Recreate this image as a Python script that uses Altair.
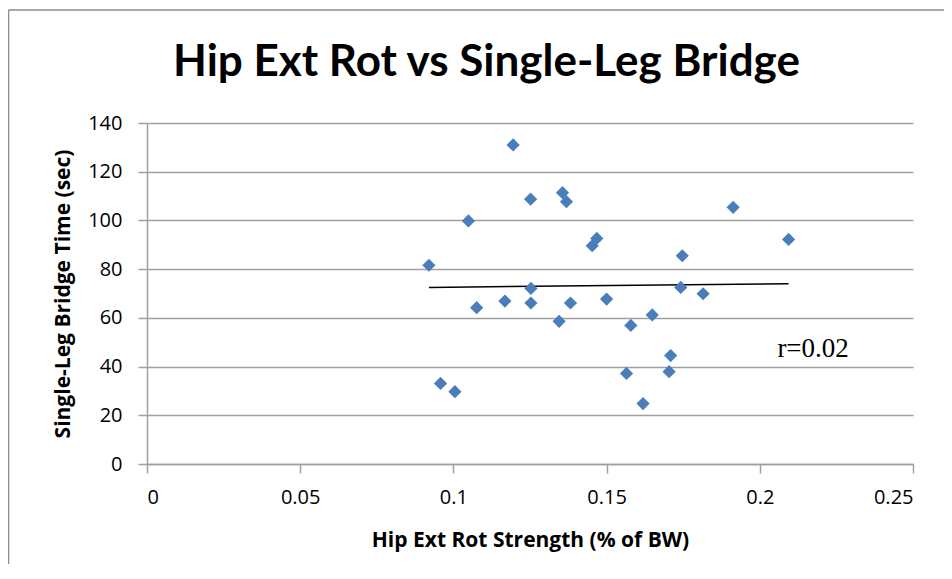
import altair as alt
import pandas as pd

# Scatter data
x_strength = [0.0920, 0.0958, 0.1005, 0.1049, 0.1076, 0.1168, 0.1195, 0.1252,
              0.1253, 0.1253, 0.1345, 0.1356, 0.1369, 0.1382, 0.1453, 0.1468,
              0.1500, 0.1565, 0.1579, 0.1619, 0.1649, 0.1704, 0.1709, 0.1742,
              0.1747, 0.1815, 0.1913, 0.2094]
y_time = [81.6, 33.1, 29.7, 99.8, 64.2, 66.9, 131.0, 108.7,
          72.1, 66.1, 58.6, 111.4, 107.7, 66.1, 89.6, 92.6,
          67.7, 37.2, 56.9, 24.8, 61.2, 37.9, 44.5, 72.5,
          85.5, 69.9, 105.4, 92.2]

# Linear trendline end points
trend_x = [0.0920, 0.2094]
trend_y = [72.5, 74.0]

# Annotation
note_text = ["r=0.02"]
note_x = [0.2174]
note_y = [44.0]

title_text = ["Hip Ext Rot vs Single-Leg Bridge"]

x_ticks = [0, 0.05, 0.1, 0.15, 0.2, 0.25]
y_ticks = [0, 20, 40, 60, 80, 100, 120, 140]

W, H = 766, 341
PAD_L, PAD_T, PAD_R, PAD_B = 139, 115, 31, 100

pts = pd.DataFrame({"x": x_strength, "y": y_time})
trend = pd.DataFrame({"x": trend_x, "y": trend_y})
note = pd.DataFrame({"x": note_x, "y": note_y, "t": note_text})
ttl = pd.DataFrame({"t": title_text})

xscale = alt.Scale(domain=[0, 0.25], nice=False, zero=True)
yscale = alt.Scale(domain=[0, 140], nice=False, zero=True)

xaxis = alt.Axis(values=x_ticks, format="~g", title="Hip Ext Rot Strength (% of BW)",
                 grid=False, labelPadding=14, titlePadding=22)
yaxis = alt.Axis(values=y_ticks, title="Single-Leg Bridge Time (sec)",
                 grid=True, labelPadding=16, titlePadding=14)

points = alt.Chart(pts).mark_point(
    shape="diamond", filled=True, size=175, color="#4a7ebb", opacity=1
).encode(
    x=alt.X("x:Q", scale=xscale, axis=xaxis),
    y=alt.Y("y:Q", scale=yscale, axis=yaxis),
)

line = alt.Chart(trend).mark_line(color="black", strokeWidth=1.5).encode(
    x=alt.X("x:Q", scale=xscale),
    y=alt.Y("y:Q", scale=yscale),
)

label = alt.Chart(note).mark_text(
    font="Liberation Serif", fontSize=27, color="black", align="center", baseline="alphabetic"
).encode(
    x=alt.X("x:Q", scale=xscale),
    y=alt.Y("y:Q", scale=yscale),
    text="t:N",
)

title = alt.Chart(ttl).mark_text(
    font="Lato", fontSize=44, fontWeight="bold", color="black",
    align="center", baseline="alphabetic"
).encode(
    x=alt.value(339.5), y=alt.value(-47), text="t:N"
)

frame_df = pd.DataFrame({"k": [0]})
frame_left = alt.Chart(frame_df).mark_rule(color="#8c8c8c", strokeWidth=1.5).encode(
    x=alt.value(-138.5), y=alt.value(-113), y2=alt.value(H + PAD_B)
)
frame_top = alt.Chart(frame_df).mark_rule(color="#8c8c8c", strokeWidth=1.5).encode(
    x=alt.value(-138.5), x2=alt.value(W + PAD_R), y=alt.value(-113)
)

chart = alt.layer(frame_left, frame_top, line, points, label, title).properties(
    width=W,
    height=H,
    autosize=alt.AutoSizeParams(type="none"),
    padding={"left": PAD_L, "top": PAD_T, "right": PAD_R, "bottom": PAD_B},
).configure_view(stroke=None).configure_axis(
    labelFont="Open Sans", labelFontSize=20, labelColor="black",
    titleFont="Open Sans", titleFontSize=21, titleFontWeight="bold", titleColor="black",
    domainColor="#a0a0a0", domainWidth=1.5, tickColor="#a0a0a0", tickWidth=1.5, tickSize=9,
    gridColor="#a0a0a0", gridWidth=1.5,
)

chart.save("out.html", embed_options={"renderer": "svg", "actions": False})
